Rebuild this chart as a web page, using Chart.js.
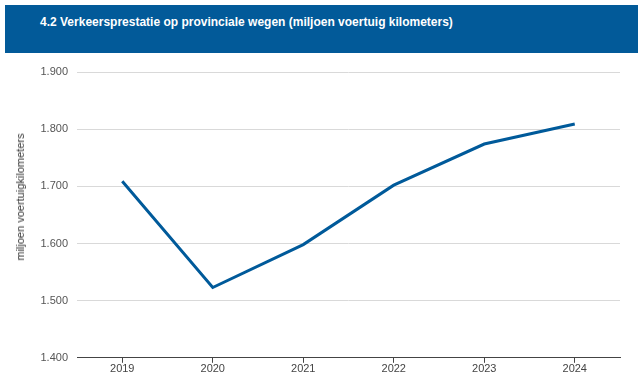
<!DOCTYPE html>
<html><head><meta charset="utf-8">
<script src="https://cdn.jsdelivr.net/npm/chart.js@4/dist/chart.umd.min.js"></script>
<style>
html,body{margin:0;padding:0;background:#fff;width:640px;height:378px;overflow:hidden;font-family:"Liberation Sans",Arial,sans-serif;}
#hdr{position:absolute;left:5px;top:5px;width:633px;height:48px;background:#025a99;}
#ttl{position:absolute;left:35px;top:10px;color:#fff;font-weight:bold;font-size:12px;white-space:nowrap;transform-origin:0 0;transform:scaleX(1.0);}
#ytitle{position:absolute;left:20px;top:197px;transform:translate(-50%,-50%) rotate(-90deg);font-size:11px;color:#333;white-space:nowrap;}
#wrap{position:absolute;left:0;top:0;width:640px;height:378px;}
</style></head>
<body>
<div id="hdr"><div id="ttl">4.2 Verkeersprestatie op provinciale wegen (miljoen voertuig kilometers)</div></div>
<div id="wrap"><canvas id="c" width="640" height="378"></canvas></div>
<div id="ytitle">miljoen voertuigkilometers</div>
<script>
const years = ["2019","2020","2021","2022","2023","2024"];
const values = [1709, 1523, 1598, 1702, 1774, 1809];
const yTicks = [1400, 1500, 1600, 1700, 1800, 1900];

function fmt(v){ const s = String(Math.round(v)); return s.length>3 ? s.slice(0,s.length-3)+"."+s.slice(-3) : s; }

new Chart(document.getElementById('c'), {
  type: 'line',
  data: { labels: years, datasets: [{ data: values, borderColor: '#005a9a', borderWidth: 3, pointRadius: 0, tension: 0, fill: false }] },
  options: {
    responsive: false, animation: false, devicePixelRatio: 1,
    layout: { padding: { left: 0, right: 20, top: 72, bottom: 2 } },
    plugins: { legend: { display: false }, tooltip: { enabled: false } },
    scales: {
      x: {
        offset: true,
        grid: { display: true, drawOnChartArea: false, drawTicks: true, tickLength: 5, color: '#444' },
        border: { display: true, color: '#444', width: 1 },
        ticks: { color: '#444', font: { family: 'Liberation Sans', size: 11 }, padding: 0, maxRotation: 0 }
      },
      y: {
        min: 1400, max: 1900,
        afterBuildTicks: (s) => { s.ticks = yTicks.map(v => ({ value: v })); },
        grid: { color: '#d9d9d9', drawTicks: false },
        border: { display: false },
        ticks: { color: '#555', font: { family: 'Liberation Sans', size: 11 }, padding: 9, callback: (v) => fmt(v) },
        afterFit: (s) => { s.width = 77; }
      }
    }
  }
});
</script>
</body></html>
